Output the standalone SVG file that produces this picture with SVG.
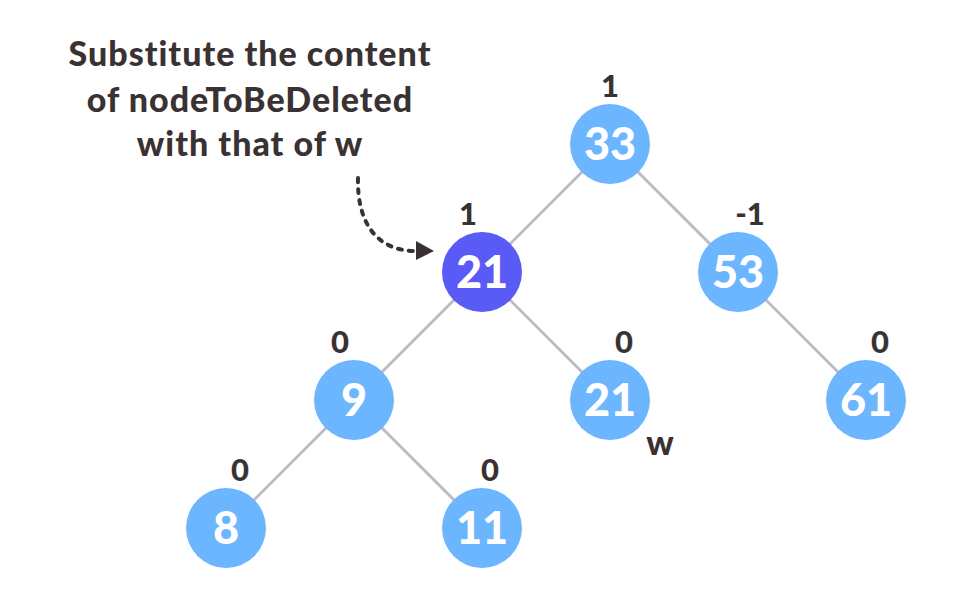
<svg xmlns="http://www.w3.org/2000/svg" width="954" height="616" viewBox="0 0 954 616">
<defs>
<style>
.e{stroke:#bdbdbd;stroke-width:3;fill:none}
.n{fill:#6cb6ff}
.d{fill:#5a5af7}
.v{font-family:Lato,"Liberation Sans",sans-serif;font-weight:900;font-size:45px;fill:#fff;text-anchor:middle}
.b{font-family:Lato,"Liberation Sans",sans-serif;font-weight:900;font-size:31px;fill:#3a3232;text-anchor:middle}
.t{font-family:Lato,"Liberation Sans",sans-serif;font-weight:900;font-size:34px;letter-spacing:1px;fill:#3a3232;text-anchor:middle}
</style>
</defs>
<rect width="954" height="616" fill="#fff"/>
<g id="connectors">
<line class="e" x1="610" y1="144" x2="482" y2="272"/>
<line class="e" x1="610" y1="144" x2="738" y2="272"/>
<line class="e" x1="482" y1="272" x2="354" y2="400"/>
<line class="e" x1="482" y1="272" x2="610" y2="400"/>
<line class="e" x1="738" y1="272" x2="866" y2="400"/>
<line class="e" x1="354" y1="400" x2="226" y2="528"/>
<line class="e" x1="354" y1="400" x2="482" y2="528"/>
<path d="M358,178 C357,222 376,250 414,251" stroke="#3a3232" stroke-width="4" fill="none" stroke-dasharray="4,7" stroke-linecap="round"/>
<path d="M416,241 L434,251 L416,260 z" fill="#3a3232"/>
</g>
<g id="title">
<text class="t" x="250" y="66">Substitute the content</text>
<text class="t" x="250" y="112">of nodeToBeDeleted</text>
<text class="t" x="250" y="156">with that of w</text>
</g>
<g id="n33"><circle class="n" cx="610" cy="144" r="40"/><text class="v" x="610" y="160">33</text><text class="b" x="610" y="97">1</text></g>
<g id="n21"><circle class="d" cx="482" cy="272" r="40"/><text class="v" x="482" y="288">21</text><text class="b" x="468" y="225">1</text></g>
<g id="n53"><circle class="n" cx="738" cy="272" r="40"/><text class="v" x="738" y="288">53</text><text class="b" x="750" y="225">-1</text></g>
<g id="n9"><circle class="n" cx="354" cy="400" r="40"/><text class="v" x="354" y="416">9</text><text class="b" x="340" y="353">0</text></g>
<g id="n21w"><circle class="n" cx="610" cy="400" r="40"/><text class="v" x="610" y="416">21</text><text class="b" x="624" y="353">0</text><text class="b" x="660" y="455" style="font-size:34px">w</text></g>
<g id="n61"><circle class="n" cx="866" cy="400" r="40"/><text class="v" x="866" y="416">61</text><text class="b" x="880" y="353">0</text></g>
<g id="n8"><circle class="n" cx="226" cy="528" r="40"/><text class="v" x="226" y="544">8</text><text class="b" x="240" y="481">0</text></g>
<g id="n11"><circle class="n" cx="482" cy="528" r="40"/><text class="v" x="482" y="544">11</text><text class="b" x="490" y="481">0</text></g>
</svg>
